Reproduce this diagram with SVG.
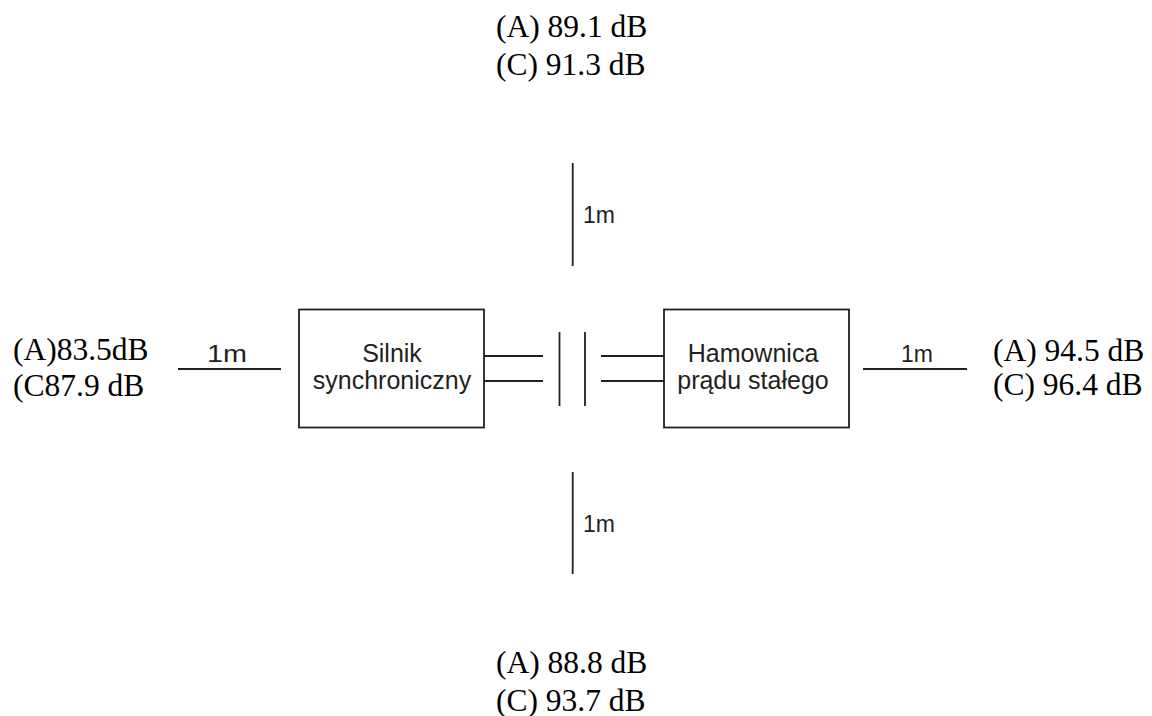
<svg xmlns="http://www.w3.org/2000/svg" width="1152" height="716" viewBox="0 0 1152 716">
<style>
.ln{stroke:#231f20;stroke-width:1.8;fill:none}
.box{stroke:#231f20;stroke-width:1.8;fill:#fff}
.db{font-family:"Liberation Serif","Times New Roman",serif;font-size:31.5px;fill:#000}
.sf{font-family:"Liberation Sans",Arial,sans-serif;font-size:23px;fill:#231f20}
.bx{font-family:"Liberation Sans",Arial,sans-serif;font-size:25px;fill:#231f20;text-anchor:middle}
</style>
<rect width="1152" height="716" fill="#fff"/>
<g id="connectors">
<line class="ln" x1="484" y1="356" x2="543" y2="356"/>
<line class="ln" x1="484" y1="381" x2="543" y2="381"/>
<line class="ln" x1="559.5" y1="332" x2="559.5" y2="406"/>
<line class="ln" x1="585" y1="332" x2="585" y2="406"/>
<line class="ln" x1="601" y1="356" x2="664" y2="356"/>
<line class="ln" x1="601" y1="381" x2="664" y2="381"/>
<line class="ln" x1="178" y1="369" x2="281" y2="369"/>
<line class="ln" x1="863" y1="369" x2="967" y2="369"/>
<line class="ln" x1="572.7" y1="163" x2="572.7" y2="266"/>
<line class="ln" x1="572.7" y1="472" x2="572.7" y2="574"/>
</g>
<g id="motor">
<rect class="box" x="299" y="309.5" width="185" height="118"/>
<text class="bx" x="392" y="362">Silnik</text>
<text class="bx" x="392" y="389">synchroniczny</text>
</g>
<g id="dynamometer">
<rect class="box" x="664" y="309.5" width="185" height="118"/>
<text class="bx" x="753" y="362">Hamownica</text>
<text class="bx" x="753" y="389">prądu stałego</text>
</g>
<g id="dist-labels">
<text class="sf" x="207" y="362" textLength="40" lengthAdjust="spacingAndGlyphs">1m</text>
<text class="sf" x="901" y="362">1m</text>
<text class="sf" x="583" y="223">1m</text>
<text class="sf" x="583" y="532">1m</text>
</g>
<g id="top-levels">
<text class="db" x="496" y="37">(A) 89.1 dB</text>
<text class="db" x="496" y="75">(C) 91.3 dB</text>
</g>
<g id="bottom-levels">
<text class="db" x="496" y="673">(A) 88.8 dB</text>
<text class="db" x="496" y="711">(C) 93.7 dB</text>
</g>
<g id="left-levels">
<text class="db" x="13" y="360">(A)83.5dB</text>
<text class="db" x="13" y="396">(C87.9 dB</text>
</g>
<g id="right-levels">
<text class="db" x="993" y="361">(A) 94.5 dB</text>
<text class="db" x="993" y="395">(C) 96.4 dB</text>
</g>
</svg>
